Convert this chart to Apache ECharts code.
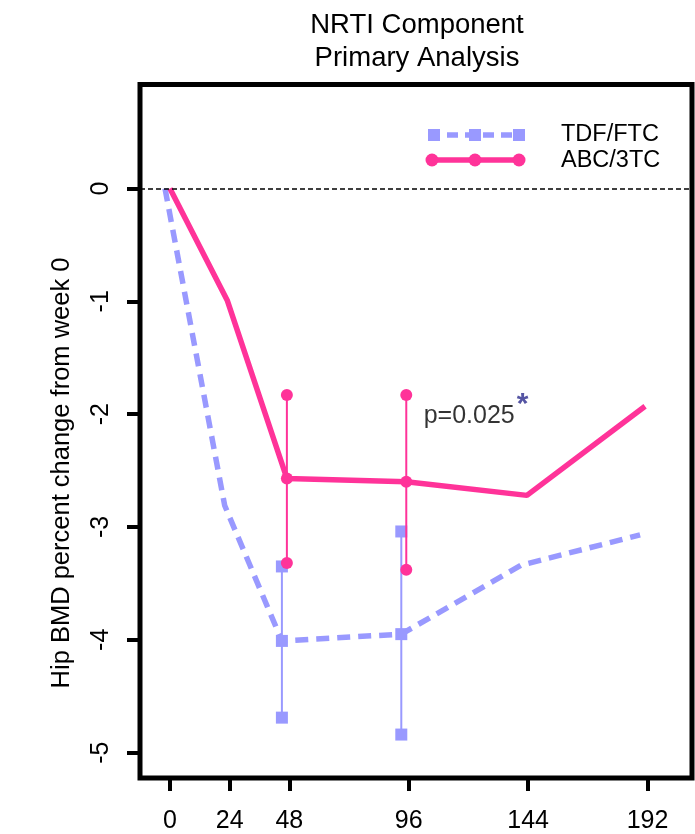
<!DOCTYPE html>
<html>
<head>
<meta charset="utf-8">
<script src="https://cdn.jsdelivr.net/npm/echarts@6/dist/echarts.min.js"></script>
<style>html,body{margin:0;padding:0;background:#fff;}#c{width:695px;height:834px;}</style>
</head>
<body>
<div id="c"></div>
<script>
// ---- data ----
var xTicks = [0, 24, 48, 96, 144, 192];
var yTicks = [0, -1, -2, -3, -4, -5];
var seriesNames = ['TDF/FTC', 'ABC/3TC'];
// mean lines (week, % change)
var tdfWeeks = [-2, 22, 45, 93, 141, 189];
var tdfMean  = [0, -2.81, -4.01, -3.95, -3.34, -3.07];
var abcWeeks = [0, 23, 47, 95, 143.5, 191];
var abcMean  = [0, -0.99, -2.57, -2.60, -2.72, -1.93];
// error bars at weeks 48 and 96
var tdfErrWeeks = [45, 93];
var tdfErrMean  = [-4.01, -3.95];
var tdfErrHigh  = [-3.35, -3.04];
var tdfErrLow   = [-4.69, -4.84];
var abcErrWeeks = [47, 95];
var abcErrMean  = [-2.57, -2.60];
var abcErrHigh  = [-1.83, -1.83];
var abcErrLow   = [-3.32, -3.38];
var pText = 'p=0.025';
var pAnchor = [102, -2.02];

var PINK = '#ff3399';
var LAV = '#9999ff';
var FONT = 'Liberation Sans, Arial, sans-serif';

function pairs(xs, ys) { return xs.map(function (x, i) { return [x, ys[i]]; }); }
function errData(ws, hi, mean, lo) {
  var out = [];
  ws.forEach(function (w, i) {
    if (i > 0) out.push([w, '-']);
    out.push([w, hi[i]], [w, mean[i]], [w, lo[i]]);
  });
  return out;
}

var chart = echarts.init(document.getElementById('c'), null, {renderer: 'canvas'});
var option = {
  animation: false,
  backgroundColor: '#fff',
  grid: {left: 140, right: 3, top: 84.5, bottom: 52.5, show: true, borderColor: '#000', borderWidth: 5, backgroundColor: 'transparent'},
  xAxis: {
    type: 'value', min: -12.05, max: 209.87,
    splitLine: {show: false},
    axisLine: {show: false, onZero: false},
    axisTick: {show: true, customValues: xTicks, length: 13, lineStyle: {color: '#000', width: 4}},
    axisLabel: {show: true, customValues: xTicks, color: '#000', fontSize: 25, fontFamily: FONT, margin: 31}
  },
  yAxis: {
    type: 'value', min: -5.225, max: 0.9215,
    splitLine: {show: false},
    axisLine: {show: false, onZero: false},
    axisTick: {show: true, customValues: yTicks, length: 13, lineStyle: {color: '#000', width: 4}},
    axisLabel: {show: true, customValues: yTicks, rotate: 90, color: '#000', fontSize: 25, fontFamily: FONT, margin: 26}
  },
  series: [
    {
      name: 'zero', type: 'line', data: [], silent: true,
      markLine: {silent: true, symbol: 'none', label: {show: false},
        lineStyle: {color: '#000', width: 1.5, type: [5, 3]},
        data: [{yAxis: 0}]}
    },
    {
      name: seriesNames[0] + ' err', type: 'line', data: errData(tdfErrWeeks, tdfErrHigh, tdfErrMean, tdfErrLow),
      symbol: 'rect', symbolSize: 12, showSymbol: true, connectNulls: false,
      itemStyle: {color: LAV}, lineStyle: {color: LAV, width: 2}, z: 3
    },
    {
      name: seriesNames[0], type: 'line', data: pairs(tdfWeeks, tdfMean), showSymbol: false, symbol: 'none',
      lineStyle: {color: LAV, width: 5.5, type: [13, 8], cap: 'butt'}, z: 3
    },
    {
      name: seriesNames[1] + ' err', type: 'line', data: errData(abcErrWeeks, abcErrHigh, abcErrMean, abcErrLow),
      symbol: 'circle', symbolSize: 12, showSymbol: true, connectNulls: false,
      itemStyle: {color: PINK}, lineStyle: {color: PINK, width: 2}, z: 4
    },
    {
      name: seriesNames[1], type: 'line', data: pairs(abcWeeks, abcMean), showSymbol: false, symbol: 'none',
      lineStyle: {color: PINK, width: 5.5}, z: 4
    },
    {
      name: 'p', type: 'scatter', data: [pAnchor], symbolSize: 0, silent: true,
      label: {show: true, position: 'right', distance: 0, formatter: '{a|' + pText + '}{b|*}',
        rich: {
          a: {fontSize: 25, fontFamily: FONT, color: '#000'},
          b: {fontSize: 30, fontFamily: FONT, color: '#2b2b8c', fontWeight: 'bold', padding: [0, 0, 24, 2]}
        }}
    }
  ],
  graphic: [
    {type: 'text', x: 417, y: 25, style: {text: 'NRTI Component', font: '27.5px ' + FONT, fill: '#000', textAlign: 'center', textVerticalAlign: 'middle'}},
    {type: 'text', x: 417, y: 58, style: {text: 'Primary Analysis', font: '27.5px ' + FONT, fill: '#000', textAlign: 'center', textVerticalAlign: 'middle'}},
    {type: 'text', x: 62, y: 473, rotation: Math.PI / 2, style: {text: 'Hip BMD percent change from week 0', font: '25.5px ' + FONT, fill: '#000', textAlign: 'center', textVerticalAlign: 'middle'}},
    // legend
    {type: 'line', shape: {x1: 429, y1: 135, x2: 525, y2: 135}, style: {stroke: LAV, lineWidth: 5.5, lineDash: [11, 7]}},
    {type: 'rect', shape: {x: 428, y: 129, width: 12, height: 12}, style: {fill: LAV}},
    {type: 'rect', shape: {x: 469, y: 129, width: 12, height: 12}, style: {fill: LAV}},
    {type: 'rect', shape: {x: 513, y: 129, width: 12, height: 12}, style: {fill: LAV}},
    {type: 'text', x: 561, y: 135, style: {text: seriesNames[0], font: '23.5px ' + FONT, fill: '#000', textVerticalAlign: 'middle'}},
    {type: 'line', shape: {x1: 432, y1: 160, x2: 519, y2: 160}, style: {stroke: PINK, lineWidth: 5.5}},
    {type: 'circle', shape: {cx: 432, cy: 160, r: 6.5}, style: {fill: PINK}},
    {type: 'circle', shape: {cx: 475, cy: 160, r: 6.5}, style: {fill: PINK}},
    {type: 'circle', shape: {cx: 519, cy: 160, r: 6.5}, style: {fill: PINK}},
    {type: 'text', x: 561, y: 161, style: {text: seriesNames[1], font: '23.5px ' + FONT, fill: '#000', textVerticalAlign: 'middle'}}
  ]
};
chart.setOption(option);
</script>
</body>
</html>
